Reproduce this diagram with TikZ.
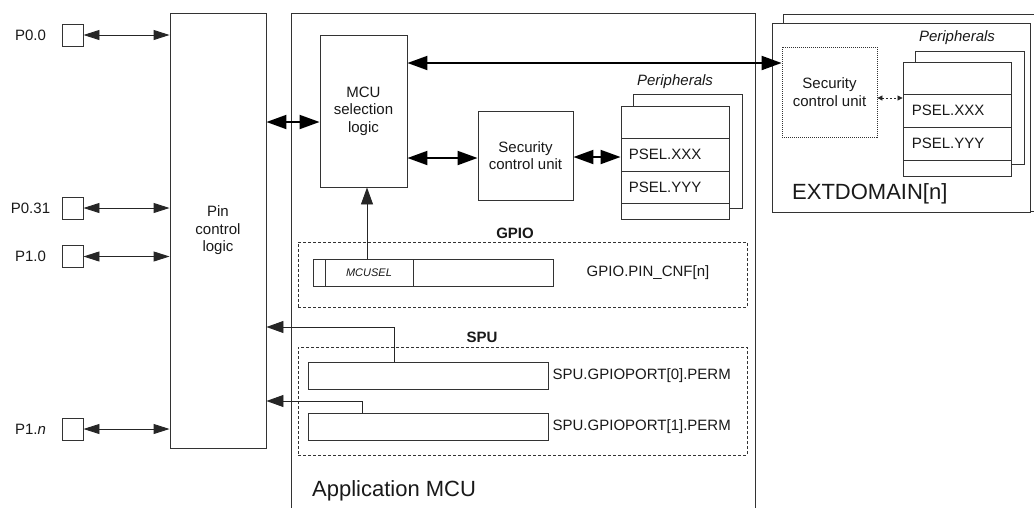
\documentclass[tikz,border=0pt]{standalone}
\usepackage{fontspec}
\setmainfont{Liberation Sans}
\usetikzlibrary{arrows.meta,calc}
\begin{document}
\begin{tikzpicture}[x=1pt,y=-1pt,
  every node/.style={font=\fontsize{15}{17.5}\selectfont, text=black!90},
  box/.style={draw=black!80, line width=0.9pt, inner sep=0pt, fill=white},
  dbox/.style={draw=black!80, line width=0.8pt, dashed, dash pattern=on 3pt off 2pt, inner sep=0pt},
  obox/.style={draw=black!80, line width=0.8pt, dash pattern=on 1pt off 1pt, inner sep=0pt},
  lbl/.style={inner sep=0pt},
  big/.style={inner sep=0pt, font=\fontsize{22}{26}\selectfont},
  hdr/.style={inner sep=0pt, font=\fontsize{15}{17.5}\selectfont\bfseries},
  ital/.style={inner sep=0pt, font=\fontsize{15}{17.5}\selectfont\itshape},
  pinsq/.style={box, minimum width=21, minimum height=22},
  thinarr/.style={draw=black!85, line width=0.9pt, {Triangle[length=16pt,width=10pt]}-{Triangle[length=16pt,width=10pt]}},
  boldarr/.style={draw=black, line width=2pt, {Triangle[length=20pt,width=14pt]}-{Triangle[length=20pt,width=14pt]}},
  onearr/.style={draw=black!85, line width=0.9pt, -{Triangle[length=17pt,width=12pt]}},
  smallarr/.style={draw=black!85, line width=0.8pt, dash pattern=on 2pt off 2pt, {Triangle[length=5pt,width=5pt]}-{Triangle[length=5pt,width=5pt]}}
]
\useasboundingbox (0,0) rectangle (1034,507);
\clip (0,0) rectangle (1034,507);

% Application MCU frame
\node[box, minimum width=464, minimum height=507] (app) at (523,266.5) {};
\node[big, anchor=base west] (appl) at (312,496) {Application MCU};

% EXTDOMAIN frames
\node[box, minimum width=262, minimum height=197] (extb) at (914,112.5) {};
\node[box, minimum width=258, minimum height=189] (ext) at (901,117.5) {};
\node[big, anchor=base west] (extl) at (792,199.5) {EXTDOMAIN[n]};

% pins
\node[pinsq] (p00) at (72.5,35) {};
\node[pinsq] (p031) at (72.5,208) {};
\node[pinsq] (p10) at (72.5,256.5) {};
\node[pinsq] (p1n) at (72.5,429) {};
\node[lbl] (l00) at (30.5,35) {P0.0};
\node[lbl] (l031) at (30.5,208) {P0.31};
\node[lbl] (l10) at (30.5,256.5) {P1.0};
\node[lbl] (l1n) at (30.5,429) {P1.\textit{n}};

% pin control logic
\node[box, minimum width=96, minimum height=435, align=center] (pin) at (218,230.5) {Pin\\control\\logic};

% MCU selection logic
\node[box, minimum width=87, minimum height=152, align=center] (mcu) at (363.5,111) {MCU\\selection\\logic};

% Security control unit
\node[box, minimum width=95, minimum height=89, align=center] (scu) at (525.5,155.5) {Security\\control unit};

% Peripherals (app)
\node[box, minimum width=109, minimum height=114] (pab) at (687.5,151) {};
\node[box, minimum width=108, minimum height=32] (pa1) at (675,122) {};
\node[box, minimum width=108, minimum height=33] (psx) at (675,154.5) {};
\node[box, minimum width=108, minimum height=32] (psy) at (675,187) {};
\node[box, minimum width=108, minimum height=16] (pa4) at (675,211) {};
\node[lbl, anchor=west] (psxt) at ([xshift=8]psx.west) {PSEL.XXX};
\node[lbl, anchor=west] (psyt) at ([xshift=8]psy.west) {PSEL.YYY};
\node[ital] (perl) at (675,82) {Peripherals};

% External security control unit
\node[obox, minimum width=95, minimum height=90, align=center] (escu) at (829.5,92) {Security\\control unit};

% Peripherals (ext)
\node[box, minimum width=109, minimum height=113] (eb) at (969.5,107.5) {};
\node[box, minimum width=108, minimum height=32] (ea1) at (957,78) {};
\node[box, minimum width=108, minimum height=33] (epx) at (957,110.5) {};
\node[box, minimum width=108, minimum height=33] (epy) at (957,143.5) {};
\node[box, minimum width=108, minimum height=16] (ea4) at (957,168) {};
\node[lbl, anchor=west] (epxt) at ([xshift=9]epx.west) {PSEL.XXX};
\node[lbl, anchor=west] (epyt) at ([xshift=9]epy.west) {PSEL.YYY};
\node[ital] (eperl) at (957,38) {Peripherals};

% GPIO
\node[hdr] (gpiol) at (515,233) {GPIO};
\node[dbox, minimum width=449, minimum height=65] (gpio) at (522.5,274.5) {};
\node[box, minimum width=12, minimum height=27] (g1) at (319,272.5) {};
\node[box, minimum width=88, minimum height=27, font=\fontsize{11}{13}\selectfont\itshape] (mcusel) at (369,272.5) {MCUSEL};
\node[box, minimum width=140, minimum height=27] (g3) at (483,272.5) {};
\node[lbl] (pincnf) at (648,273) {GPIO.PIN\_CNF[n]};

% SPU
\node[hdr] (spul) at (482,337) {SPU};
\node[dbox, minimum width=449, minimum height=108] (spu) at (522.5,401) {};
\node[box, minimum width=240, minimum height=27] (r0) at (428,375.5) {};
\node[box, minimum width=240, minimum height=27] (r1) at (428,426.5) {};
\node[lbl, anchor=west] (r0l) at ([xshift=4]r0.east) {SPU.GPIOPORT[0].PERM};
\node[lbl, anchor=west] (r1l) at ([xshift=4]r1.east) {SPU.GPIOPORT[1].PERM};

% connectors: pins
\draw[thinarr] (p00.east) -- (p00.east -| pin.west);
\draw[thinarr] (p031.east) -- (p031.east -| pin.west);
\draw[thinarr] (p10.east) -- (p10.east -| pin.west);
\draw[thinarr] (p1n.east) -- (p1n.east -| pin.west);

% bold connectors
\draw[boldarr] (pin.east |- 0,122) -- (mcu.west |- 0,122);
\draw[boldarr] (mcu.east |- 0,63) -- (escu.west |- 0,63);
\draw[boldarr] (mcu.east |- 0,158) -- (scu.west |- 0,158);
\draw[boldarr] (scu.east |- 0,157) -- (psx.west |- 0,157);

% GPIO -> MCU selection
\draw[onearr] (mcusel.north -| 367,0) -- (mcu.south -| 367,0);

% SPU -> pin control
\draw[onearr] (r0.north -| 394,0) |- (pin.east |- 0,327);
\draw[onearr] (r1.north -| 362,0) |- (pin.east |- 0,401);

% ext dashed arrow
\draw[smallarr] (escu.east |- 0,98) -- (epx.west |- 0,98);
\end{tikzpicture}
\end{document}
